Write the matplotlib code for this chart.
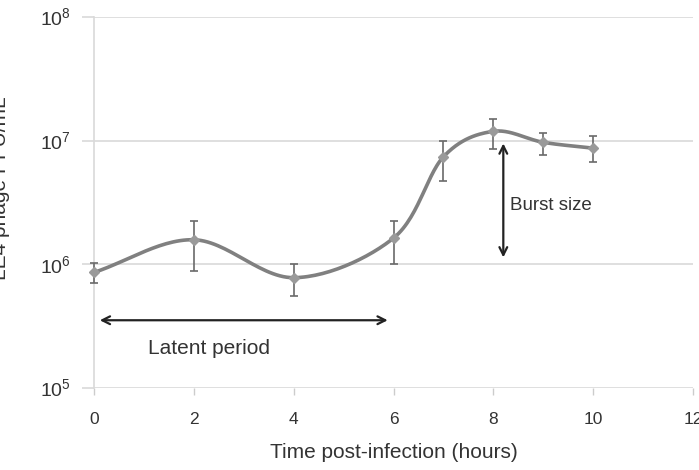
import numpy as np
import matplotlib.pyplot as plt
from matplotlib.ticker import FixedLocator

plt.rcParams['font.family'] = ['Liberation Sans', 'DejaVu Sans']
plt.rcParams['mathtext.fontset'] = 'custom'
plt.rcParams['mathtext.rm'] = 'Liberation Sans'

# data
hours = [0, 2, 4, 6, 7, 8, 9, 10]
pfu = [8.6e5, 1.58e6, 7.8e5, 1.63e6, 7.4e6, 1.19e7, 9.7e6, 8.7e6]
err_hi = [1.02e6, 2.23e6, 1.0e6, 2.23e6, 1.0e7, 1.5e7, 1.15e7, 1.1e7]
err_lo = [7.0e5, 8.9e5, 5.55e5, 1.0e6, 4.75e6, 8.6e6, 7.7e6, 6.7e6]
x_ticks = [0, 2, 4, 6, 8, 10, 12]
y_ticks = [1e5, 1e6, 1e7, 1e8]
y_labels = ['$10^5$', '$10^6$', '$10^7$', '$10^8$']


def smooth(x, y, n=30):
    # Catmull-Rom through the points, like Excel's smoothed line
    x = np.asarray(x, float)
    y = np.log10(y)
    px = np.concatenate([[2 * x[0] - x[1]], x, [2 * x[-1] - x[-2]]])
    py = np.concatenate([[2 * y[0] - y[1]], y, [2 * y[-1] - y[-2]]])
    xs, ys = [], []
    for i in range(1, len(px) - 2):
        t = np.linspace(0, 1, n)
        for p, out in ((px, xs), (py, ys)):
            p0, p1, p2, p3 = p[i - 1], p[i], p[i + 1], p[i + 2]
            out.extend(0.5 * (2 * p1 + (-p0 + p2) * t
                              + (2 * p0 - 5 * p1 + 4 * p2 - p3) * t ** 2
                              + (-p0 + 3 * p1 - 3 * p2 + p3) * t ** 3))
    return np.array(xs), 10 ** np.array(ys)


fig = plt.figure(figsize=(6.99, 4.70), dpi=100)
ax = fig.add_axes([0.1345, 0.1745, 0.8569, 0.7893])

ax.set_yscale('log')
ax.set_xlim(0, 12)
ax.set_ylim(1e5, 1e8)

sx, sy = smooth(hours, pfu)
ax.plot(sx, sy, color='#808080', lw=2.6, zorder=3, clip_on=False)
yerr = [np.array(pfu) - np.array(err_lo), np.array(err_hi) - np.array(pfu)]
ax.errorbar(hours, pfu, yerr=yerr, fmt='D', color='#9a9a9a', ms=5,
            ecolor='#6a6a6a', elinewidth=1.2, capsize=3, capthick=1.2,
            zorder=4, clip_on=False)

for y in y_ticks:
    ax.axhline(y, color='#d9d9d9', lw=1.2, zorder=1)

ax.annotate('', xy=(0.06, 3.53e5), xytext=(5.94, 3.53e5),
            arrowprops=dict(arrowstyle='<->', color='#222222', lw=1.6,
                            mutation_scale=14))
ax.text(2.3, 2.07e5, 'Latent period', fontsize=15, color='#333333',
        ha='center', va='center')
ax.annotate('', xy=(8.2, 1.0e7), xytext=(8.2, 1.08e6),
            arrowprops=dict(arrowstyle='<->', color='#222222', lw=1.6,
                            mutation_scale=14))
ax.text(8.34, 2.99e6, 'Burst size', fontsize=13.5, color='#333333',
        ha='left', va='center')

for s in ['top', 'right', 'bottom']:
    ax.spines[s].set_visible(False)
ax.spines['left'].set_color('#d9d9d9')
ax.spines['left'].set_linewidth(1.2)

ax.xaxis.set_major_locator(FixedLocator(x_ticks))
ax.set_xticklabels([str(t) for t in x_ticks])
ax.yaxis.set_major_locator(FixedLocator(y_ticks))
ax.yaxis.set_minor_locator(FixedLocator([]))
ax.set_yticklabels(y_labels)
ax.tick_params(axis='x', length=5, width=1, color='#cccccc', pad=12,
               labelsize=12.5, labelcolor='#333333')
ax.tick_params(axis='y', length=9, width=1.2, color='#d9d9d9', pad=8,
               labelsize=14, labelcolor='#333333')

ax.set_xlabel('Time post-infection (hours)', fontsize=15, color='#333333',
              labelpad=12)
fig.text(0.001, 0.60, 'LE4 phage PFU/mL', rotation=90, fontsize=15,
         color='#333333', ha='center', va='center')

fig.savefig('out.png', dpi=100)
